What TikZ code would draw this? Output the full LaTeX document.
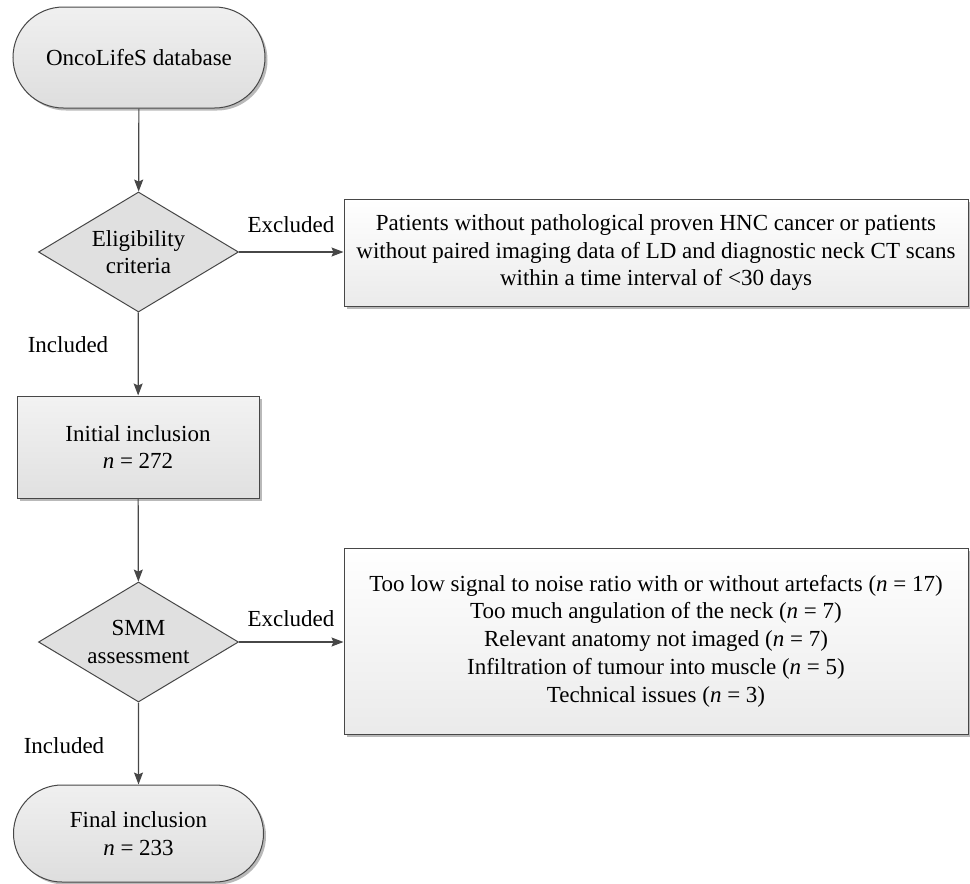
\documentclass[tikz,border=0pt]{standalone}
\usepackage{fontspec}
\setmainfont{Liberation Serif}
\usetikzlibrary{shapes.geometric,shapes.misc,arrows.meta,shadows}
\definecolor{edge}{HTML}{474747}
\definecolor{shad}{HTML}{A8A8A8}
\begin{document}
\begin{tikzpicture}[x=1pt,y=-1pt,
  font=\fontsize{23}{27.7}\selectfont,
  myshadow/.style={drop shadow={shadow xshift=2.5pt,shadow yshift=-2.5pt,fill=shad,opacity=0.8}},
  box/.style={rectangle,draw=edge,line width=1pt,top color=white,bottom color=black!8,
    myshadow,align=center,inner sep=0pt},
  term/.style={rounded rectangle,draw=edge,line width=1pt,top color=black!6,bottom color=black!13,
    myshadow,align=center,inner sep=0pt},
  decision/.style={diamond,draw=edge,line width=1pt,fill=black!12,aspect=1.667,inner sep=0pt,
    minimum width=200pt,minimum height=120pt,align=center},
  arr/.style={draw=edge,line width=1.2pt,-{Stealth[length=12pt,width=9pt,inset=2pt]}},
  lbl/.style={anchor=base,inner sep=0pt}]
\useasboundingbox (0,0) rectangle (970,884);

\node[term,minimum width=252pt,minimum height=101pt] (db) at (139,57.5) {OncoLifeS database};
\node[decision] (elig) at (138.5,252) {Eligibility\\criteria};
\node[box,minimum width=624pt,minimum height=107pt] (ex1) at (656,252.5)
  {Patients without pathological proven HNC cancer or patients\\
   without paired imaging data of LD and diagnostic neck CT scans\\
   within a time interval of <30 days};
\node[box,minimum width=242pt,minimum height=102pt,top color=black!5,bottom color=black!12] (init) at (138,447)
  {Initial inclusion\\\textit{n} = 272};
\node[decision] (smm) at (138.5,642) {SMM\\assessment};
\node[box,minimum width=624pt,minimum height=186pt] (ex2) at (656,641)
  {Too low signal to noise ratio with or without artefacts (\textit{n} = 17)\\
   Too much angulation of the neck (\textit{n} = 7)\\
   Relevant anatomy not imaged (\textit{n} = 7)\\
   Infiltration of tumour into muscle (\textit{n} = 5)\\
   Technical issues (\textit{n} = 3)};
\node[term,minimum width=250pt,minimum height=97pt] (fin) at (138.5,833.5)
  {Final inclusion\\\textit{n} = 233};

\draw[arr] (db) -- (elig);
\draw[arr] (elig.east) -- (elig.east -| ex1.west);
\draw[arr] (elig) -- (init);
\draw[arr] (init) -- (smm);
\draw[arr] (smm.east) -- (smm.east -| ex2.west);
\draw[arr] (smm) -- (fin);

\node[lbl] (lx1) at (291,232) {Excluded};
\node[lbl] (li1) at (68,352) {Included};
\node[lbl] (lx2) at (291,626) {Excluded};
\node[lbl] (li2) at (64,753) {Included};
\end{tikzpicture}
\end{document}
